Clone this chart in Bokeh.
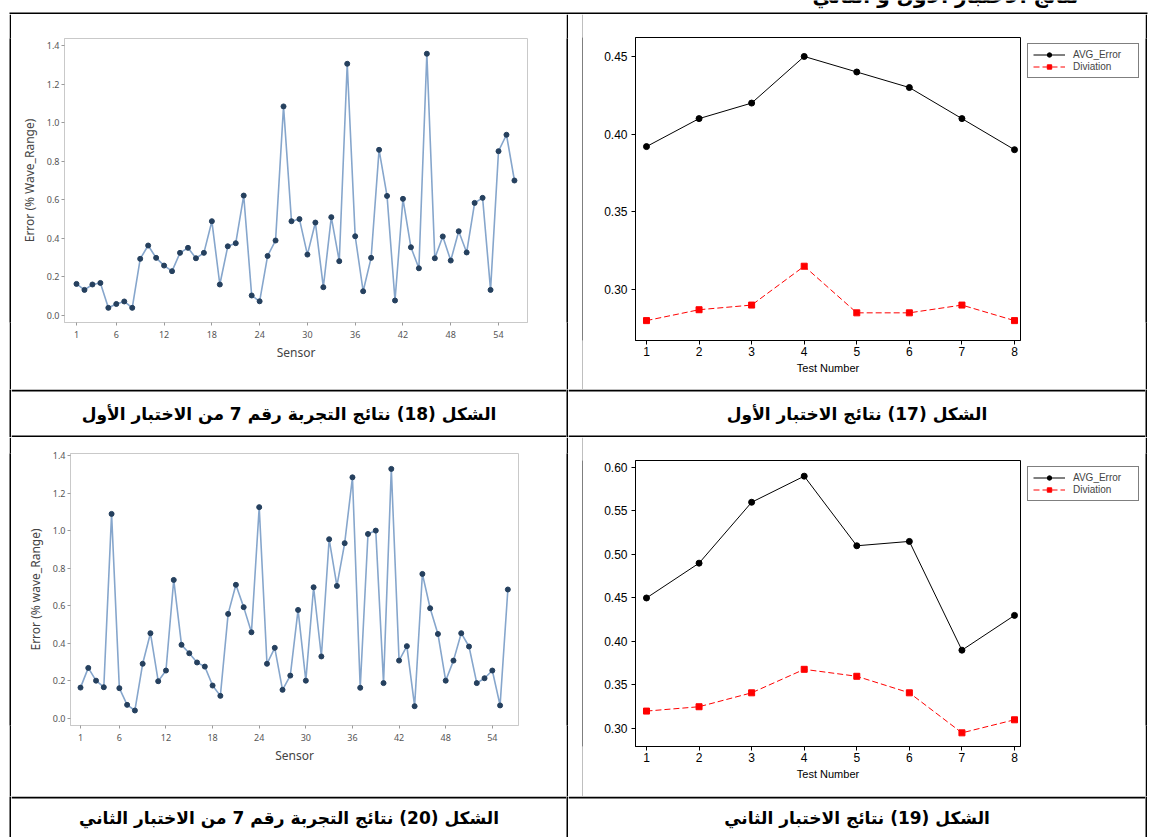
from bokeh.plotting import figure
from bokeh.layouts import row, column
from bokeh.models import Spacer, FixedTicker, NumeralTickFormatter, Legend, LegendItem, Range1d
from bokeh.core.properties import value
from bokeh.embed import file_html
from bokeh.resources import INLINE

# ---------------- data ----------------
sensors = list(range(1, 57))
sensor_ticks = [1, 6, 12, 18, 24, 30, 36, 42, 48, 54]
error_ticks = [0.0, 0.2, 0.4, 0.6, 0.8, 1.0, 1.2, 1.4]

test1_exp7_error = [0.164, 0.133, 0.161, 0.169, 0.040, 0.060, 0.073, 0.040, 0.294, 0.363,
                    0.299, 0.259, 0.230, 0.325, 0.351, 0.297, 0.325, 0.489, 0.161, 0.359,
                    0.375, 0.622, 0.104, 0.074, 0.309, 0.389, 1.084, 0.489, 0.500, 0.316,
                    0.482, 0.147, 0.510, 0.282, 1.305, 0.411, 0.126, 0.299, 0.859, 0.620,
                    0.078, 0.605, 0.354, 0.245, 1.357, 0.297, 0.410, 0.285, 0.437, 0.327,
                    0.584, 0.610, 0.133, 0.852, 0.937, 0.700]

test2_exp7_error = [0.163, 0.268, 0.200, 0.165, 1.089, 0.160, 0.071, 0.041, 0.290, 0.453,
                    0.197, 0.254, 0.737, 0.391, 0.346, 0.297, 0.275, 0.174, 0.119, 0.556,
                    0.711, 0.592, 0.458, 1.125, 0.290, 0.375, 0.151, 0.227, 0.577, 0.200,
                    0.698, 0.329, 0.954, 0.705, 0.933, 1.284, 0.162, 0.982, 1.000, 0.187,
                    1.329, 0.307, 0.384, 0.064, 0.769, 0.586, 0.449, 0.200, 0.307, 0.453,
                    0.382, 0.187, 0.213, 0.254, 0.068, 0.686]

test_numbers = [1, 2, 3, 4, 5, 6, 7, 8]
test1_avg_error = [0.392, 0.410, 0.420, 0.450, 0.440, 0.430, 0.410, 0.390]
test1_deviation = [0.280, 0.287, 0.290, 0.315, 0.285, 0.285, 0.290, 0.280]
test2_avg_error = [0.450, 0.490, 0.560, 0.590, 0.510, 0.515, 0.390, 0.430]
test2_deviation = [0.320, 0.325, 0.341, 0.368, 0.360, 0.341, 0.295, 0.310]
test1_yticks = [0.30, 0.35, 0.40, 0.45]
test2_yticks = [0.30, 0.35, 0.40, 0.45, 0.50, 0.55, 0.60]

series_labels = ["AVG_Error", "Diviation"]
caption_18 = "الشكل (18) نتائج التجربة رقم 7 من الاختبار الأول"
caption_17 = "الشكل (17) نتائج الاختبار الأول"
caption_20 = "الشكل (20) نتائج التجربة رقم 7 من الاختبار الثاني"
caption_19 = "الشكل (19) نتائج الاختبار الثاني"
page_title = "نتائج الاختبار الأول و الثاني"

SVG = "svg"

AVG_STYLE = dict(line_color="black", line_width=1)
AVG_MARK = dict(marker="circle", size=6, fill_color="black", line_color="black")
DEV_STYLE = dict(line_color="#ff0000", line_width=1, line_dash="6 3")
DEV_MARK = dict(marker="square", size=6, fill_color="#ff0000", line_color="#ff0000")


def block(w, h, color="black"):
    f = figure(width=w, height=h, output_backend=SVG, toolbar_location=None,
               min_border=0, x_axis_type=None, y_axis_type=None,
               background_fill_color=color, border_fill_color=color,
               outline_line_color=None)
    return f


def sensor_plot(vals, ylab, w, h, left, right, top, bottom, xr, yr):
    p = figure(width=w, height=h, output_backend=SVG, toolbar_location=None,
               min_border_left=left, min_border_right=right,
               min_border_top=top, min_border_bottom=bottom,
               x_range=Range1d(*xr), y_range=Range1d(*yr),
               outline_line_color="#c9c9c9", background_fill_color="white",
               border_fill_color="white")
    p.line(sensors, vals, line_color="#86a6cc", line_width=1.6)
    p.scatter(sensors, vals, marker="circle", size=5,
              fill_color="#25405e", line_color="#25405e")
    p.xgrid.visible = False
    p.ygrid.visible = False
    p.xaxis.ticker = FixedTicker(ticks=sensor_ticks)
    p.yaxis.ticker = FixedTicker(ticks=error_ticks)
    p.yaxis.formatter = NumeralTickFormatter(format="0.0")
    p.xaxis.axis_label = "Sensor"
    p.yaxis.axis_label = ylab
    for ax in p.axis:
        ax.axis_line_color = "#c9c9c9"
        ax.major_tick_line_color = "#9a9a9a"
        ax.minor_tick_line_color = None
        ax.major_tick_out = 3
        ax.major_tick_in = 0
        ax.major_label_text_font = "Noto Sans"
        ax.major_label_text_font_size = "9px"
        ax.major_label_text_color = "#555555"
        ax.axis_label_text_font = "Noto Sans"
        ax.axis_label_text_font_style = "normal"
        ax.axis_label_text_font_size = "12px"
        ax.axis_label_text_color = "#444444"
    p.xaxis.major_label_standoff = 5
    p.xaxis.axis_label_standoff = 3
    p.yaxis.major_label_standoff = 2
    p.yaxis.axis_label_standoff = 6
    return p


def test_plot(avg, dev, yticks, w, h, left, right, top, bottom, xr, yr):
    p = figure(width=w, height=h, output_backend=SVG, toolbar_location=None,
               min_border_left=left, min_border_right=right,
               min_border_top=top, min_border_bottom=bottom,
               x_range=Range1d(*xr), y_range=Range1d(*yr),
               outline_line_color="black", background_fill_color="white",
               border_fill_color="white")
    p.line(test_numbers, avg, **AVG_STYLE)
    p.scatter(test_numbers, avg, **AVG_MARK)
    p.line(test_numbers, dev, **DEV_STYLE)
    p.scatter(test_numbers, dev, **DEV_MARK)
    p.xgrid.visible = False
    p.ygrid.visible = False
    p.xaxis.ticker = FixedTicker(ticks=test_numbers)
    p.yaxis.ticker = FixedTicker(ticks=yticks)
    p.yaxis.formatter = NumeralTickFormatter(format="0.00")
    p.xaxis.axis_label = "Test Number"
    for ax in p.axis:
        ax.axis_line_color = "black"
        ax.major_tick_line_color = "black"
        ax.minor_tick_line_color = None
        ax.major_tick_out = 4
        ax.major_tick_in = 0
        ax.major_label_text_font = "Liberation Sans"
        ax.major_label_text_font_size = "12px"
        ax.major_label_text_color = "black"
        ax.axis_label_text_font = "Liberation Sans"
        ax.axis_label_text_font_style = "normal"
        ax.axis_label_text_font_size = "11px"
        ax.axis_label_text_color = "black"
    p.xaxis.major_label_standoff = 2
    p.xaxis.axis_label_standoff = 3
    p.yaxis.major_label_standoff = 4
    return p


def legend_panel(avg, dev, w, h, top_gap):
    """Legend box in the margin right of the chart frame.  The series renderers
    here only provide the legend swatches: the view range excludes all data."""
    p = figure(width=w, height=h, output_backend=SVG, toolbar_location=None,
               min_border=0, min_border_top=top_gap,
               x_axis_type=None, y_axis_type=None,
               x_range=Range1d(-20, -19), y_range=Range1d(-20, -19),
               outline_line_color=None, background_fill_color="white",
               border_fill_color="white")
    l1 = p.line(test_numbers, avg, **AVG_STYLE)
    s1 = p.scatter(test_numbers, avg, **AVG_MARK)
    l2 = p.line(test_numbers, dev, **DEV_STYLE)
    s2 = p.scatter(test_numbers, dev, **DEV_MARK)
    legend = Legend(items=[LegendItem(label=series_labels[0], renderers=[l1, s1]),
                           LegendItem(label=series_labels[1], renderers=[l2, s2])],
                    location="top_left",
                    border_line_color="black", border_line_width=1,
                    background_fill_color="white", background_fill_alpha=1,
                    label_text_font="Liberation Sans", label_text_font_size="10px",
                    glyph_width=32, glyph_height=11, label_height=11,
                    label_standoff=8, padding=5, spacing=1, margin=6,
                    label_width=60)
    p.add_layout(legend)
    return p


def caption(text, w, h, bands):
    p = figure(width=w, height=h, output_backend=SVG, toolbar_location=None,
               min_border=0, x_axis_type=None, y_axis_type=None,
               x_range=Range1d(0, 1), y_range=Range1d(0, h),
               outline_line_color=None, background_fill_color="white",
               border_fill_color="white")
    for b0, b1 in bands:
        p.quad(left=[0], right=[1], bottom=[b0], top=[b1], fill_color="black",
               line_color=None)
    p.text(x=[0.5], y=[h / 2.0 - 0.5], text=[text], text_align="center",
           text_baseline="middle", text_font=value("DejaVu Sans"),
           text_font_style="bold", text_font_size="17px", text_color="black")
    return p


# -------- title (cut off at top) + table top border --------
title_fig = figure(width=1149, height=14, output_backend=SVG, toolbar_location=None,
                   min_border=0, x_axis_type=None, y_axis_type=None,
                   x_range=Range1d(0, 1149), y_range=Range1d(0, 14),
                   outline_line_color=None, background_fill_color="white",
                   border_fill_color="white")
title_fig.quad(left=[9], right=[1147], bottom=[0], top=[2], fill_color="black",
               line_color=None)
title_fig.text(x=[945], y=[19], text=[page_title], text_align="center",
               text_baseline="alphabetic", text_font=value("DejaVu Sans"),
               text_font_style="bold", text_font_size="20px", text_color="black")

H1, H2 = 375, 359
HC1, HC2 = 48, 41

lt = sensor_plot(test1_exp7_error, "Error (% Wave_Range)", 555, H1, 53, 39, 24, 67,
                 (-0.507, 57.64), (-0.036, 1.436))
rt = test_plot(test1_avg_error, test1_deviation, test1_yticks, 438, H1, 52, 1, 23, 49,
               (0.791, 8.114), (0.2672, 0.4622))
lb = sensor_plot(test2_exp7_error, "Error (% wave_Range)", 555, H2, 59, 48, 16, 71,
                 (-0.287, 57.37), (-0.039, 1.411))
rb = test_plot(test2_avg_error, test2_deviation, test2_yticks, 438, H2, 52, 1, 23, 50,
               (0.791, 8.114), (0.2793, 0.608))

row1 = row(Spacer(width=9, height=H1), block(2, H1), lt, block(2, H1),
           row(Spacer(width=14, height=H1), block(1, H1), rt,
               legend_panel(test1_avg_error, test1_deviation, 124, H1, 19)),
           block(2, H1), Spacer(width=2, height=H1))
cap1 = row(Spacer(width=9, height=HC1), block(2, HC1),
           caption(caption_18, 555, HC1, [(0, 2), (46, 48)]),
           block(2, HC1),
           caption(caption_17, 577, HC1, [(0, 2), (46, 48)]),
           block(2, HC1), Spacer(width=2, height=HC1))
row2 = row(Spacer(width=9, height=H2), block(2, H2), lb, block(2, H2),
           row(Spacer(width=14, height=H2), block(1, H2), rb,
               legend_panel(test2_avg_error, test2_deviation, 124, H2, 19)),
           block(2, H2), Spacer(width=2, height=H2))
cap2 = row(Spacer(width=9, height=HC2), block(2, HC2),
           caption(caption_20, 555, HC2, [(39, 41)]),
           block(2, HC2),
           caption(caption_19, 577, HC2, [(39, 41)]),
           block(2, HC2), Spacer(width=2, height=HC2))

page = column(title_fig, row1, cap1, row2, cap2)

open("out.html", "w").write(file_html(page, INLINE))
